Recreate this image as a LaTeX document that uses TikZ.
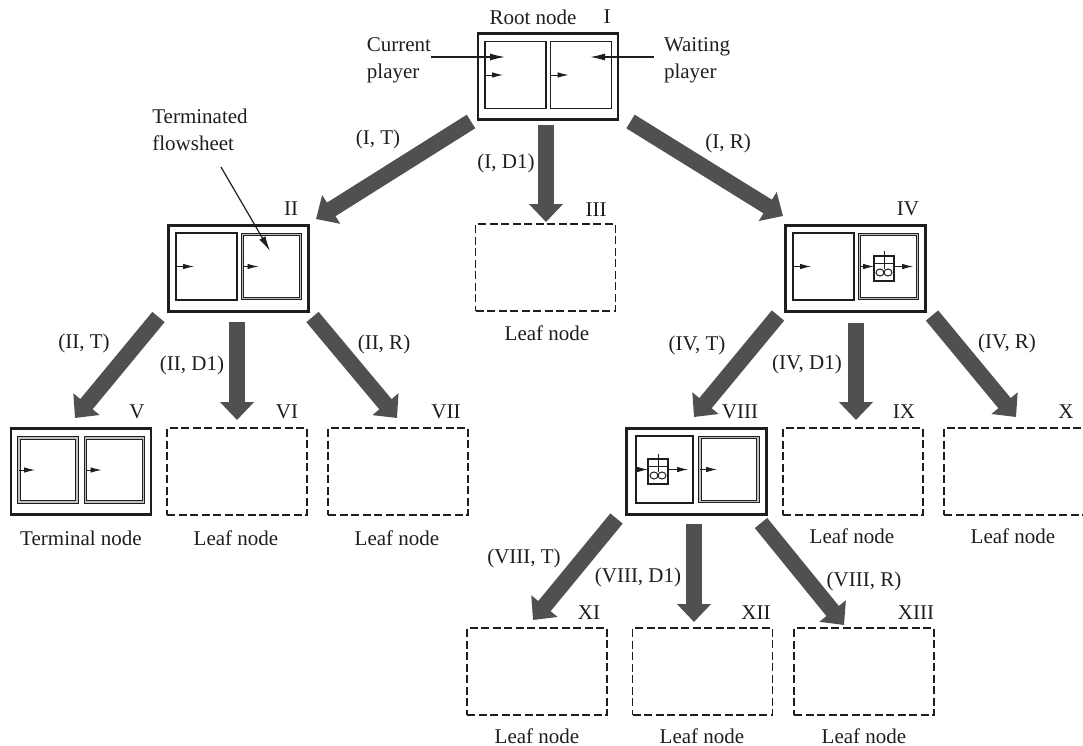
\documentclass[tikz,border=0pt]{standalone}
\usepackage{fontspec}
\setmainfont{Liberation Serif}
\usetikzlibrary{arrows.meta,calc}
\definecolor{arrowgray}{HTML}{505050}
\definecolor{inkgray}{HTML}{1E1E1E}
\tikzset{
  outerbox/.style={draw=inkgray, line width=2.4pt, minimum width=140pt, minimum height=86pt, inner sep=0pt, outer sep=0pt},
  leafbox/.style={draw=inkgray, line width=1.2pt, dash pattern=on 8pt off 3.5pt, minimum width=140pt, minimum height=87pt, inner sep=0pt, outer sep=0pt},
  panel/.style={draw=inkgray, line width=1.2pt, minimum width=61pt, minimum height=67pt, inner sep=0pt, outer sep=0pt},
  donepanel/.style={draw=inkgray, line width=1pt, double=black!25, double distance=1.9pt, minimum width=58pt, minimum height=64pt, inner sep=0pt, outer sep=0pt},
  mixerbox/.style={draw=inkgray, line width=1.1pt, minimum width=20pt, minimum height=25pt, inner sep=0pt, outer sep=0pt},
  bigarrow/.style={draw=arrowgray, line width=16pt, -{Triangle[length=18pt,width=33pt]}},
  smallarrow/.style={draw=inkgray, line width=0.9pt, -{Latex[length=11pt,width=5.5pt]}},
  thinarrow/.style={draw=inkgray, line width=1.2pt, -{Latex[length=15pt,width=7pt]}},
  lbl/.style={text=inkgray, inner sep=0pt, font=\fontsize{21}{27}\selectfont},
}
\newcommand{\mixer}[3]{%
  \node[mixerbox] (#1) at (#2,#3) {};
  \draw[inkgray, line width=1pt] (#1.north) ++(0,-5) -- ++(0,18);
  \draw[inkgray, line width=1pt] ($(#1.west)+(0,-5)$) -- ($(#1.east)+(0,-5)$);
  \draw[inkgray, line width=1pt] ($(#1)+(-4,4)$) circle (4pt and 3.5pt);
  \draw[inkgray, line width=1pt] ($(#1)+(4,4)$) circle (4pt and 3.5pt);
}
\begin{document}
\begin{tikzpicture}[x=1pt,y=-1pt]
  \useasboundingbox (0,0) rectangle (1083,746);

  % Root node
  \node[outerbox] (nI) at (548,76.5) {};
  \node[panel] (nIa) at (515.5,75) {};
  \node[panel] (nIb) at (581,75) {};
  \draw[smallarrow] (nIa.west) -- ++(18,0);
  \draw[smallarrow] (nIb.west) -- ++(18,0);
  \node[lbl] (rootlabel) at (533,17) {Root node};
  \node[lbl] (romanI) at (607,17) {I};
  \node[lbl, align=left] (current) at (399,60) {Current\\player};
  \node[lbl, align=left] (waiting) at (697,60) {Waiting\\player};
  \coordinate (currenttip) at (505,57);
  \coordinate (waitingtip) at (590,57);
  \draw[thinarrow] (current.east |- currenttip) -- (currenttip);
  \draw[thinarrow] ($(waiting.west |- waitingtip)+(-10,0)$) -- (waitingtip);

  % Second level
  \node[outerbox] (nII) at (238.5,268.5) {};
  \node[panel] (nIIa) at (206.5,266.5) {};
  \node[donepanel] (nIIb) at (271.5,266.5) {};
  \draw[smallarrow] (nIIa.west) -- ++(18,0);
  \draw[smallarrow] (nIIb.west) -- ++(16,0);
  \node[lbl] (romanII) at (291,209) {II};
  \node[lbl, align=left] (terminated) at (200,130) {Terminated\\flowsheet};
  \coordinate (terminatedtip) at (270,251);
  \draw[thinarrow] ($(terminated.south)+(21,16)$) -- (terminatedtip);

  \node[leafbox] (nIII) at (545.5,267.5) {};
  \node[lbl] (romanIII) at (596,210) {III};
  \node[lbl] (leafIII) at (547,333) {Leaf node};

  \node[outerbox] (nIV) at (855.5,268.5) {};
  \node[panel] (nIVa) at (823.5,266.5) {};
  \node[donepanel] (nIVb) at (888.5,266.5) {};
  \mixer{mixIV}{884}{268.5}
  \draw[smallarrow] (nIVa.west) -- ++(18,0);
  \draw[smallarrow] (nIVb.west) -- (nIVb.west -| mixIV.west);
  \draw[smallarrow] (nIVb.center -| mixIV.east) -- ++(19,0);
  \node[lbl] (romanIV) at (908,209) {IV};

  % Third level, left
  \node[outerbox] (nV) at (81,471.5) {};
  \node[donepanel] (nVa) at (48,470) {};
  \node[donepanel] (nVb) at (114.5,470) {};
  \draw[smallarrow] (nVa.west) -- ++(16,0);
  \draw[smallarrow] (nVb.west) -- ++(16,0);
  \node[lbl] (romanV) at (137,412) {V};
  \node[lbl] (terminal) at (81,538) {Terminal node};

  \node[leafbox] (nVI) at (237,471.5) {};
  \node[lbl] (romanVI) at (287,412) {VI};
  \node[lbl] (leafVI) at (236,538) {Leaf node};

  \node[leafbox] (nVII) at (398,471.5) {};
  \node[lbl] (romanVII) at (446,412) {VII};
  \node[lbl] (leafVII) at (397,538) {Leaf node};

  % Third level, right
  \node[outerbox] (nVIII) at (696.5,471.5) {};
  \node[panel, minimum width=57pt] (nVIIIa) at (664.5,469.5) {};
  \node[donepanel] (nVIIIb) at (729,469.5) {};
  \mixer{mixVIII}{658}{471.5}
  \draw[smallarrow] (nVIIIa.west) -- (nVIIIa.west -| mixVIII.west);
  \draw[smallarrow] (nVIIIa.center -| mixVIII.east) -- ++(20,0);
  \draw[smallarrow] (nVIIIb.west) -- ++(17,0);
  \node[lbl] (romanVIII) at (740,412) {VIII};

  \node[leafbox] (nIX) at (853,471.5) {};
  \node[lbl] (romanIX) at (904,412) {IX};
  \node[lbl] (leafIX) at (852,536) {Leaf node};

  \node[leafbox] (nX) at (1014,471.5) {};
  \node[lbl] (romanX) at (1066,412) {X};
  \node[lbl] (leafX) at (1013,536) {Leaf node};

  % Fourth level
  \node[leafbox] (nXI) at (537,671.5) {};
  \node[lbl] (romanXI) at (589,613) {XI};
  \node[lbl] (leafXI) at (537,736) {Leaf node};

  \node[leafbox] (nXII) at (702.5,671.5) {};
  \node[lbl] (romanXII) at (756,613) {XII};
  \node[lbl] (leafXII) at (702,736) {Leaf node};

  \node[leafbox] (nXIII) at (864,671.5) {};
  \node[lbl] (romanXIII) at (916,613) {XIII};
  \node[lbl] (leafXIII) at (864,736) {Leaf node};

  % Moves
  \draw[bigarrow] ($(nI.south west)+(-7,2)$) -- ($(nII.north east)+(7.5,-6.5)$);
  \draw[bigarrow] ($(nI.south)+(-2,5.5)$) -- ($(nIII.north)+(0.5,-2)$);
  \draw[bigarrow] ($(nI.south east)+(12.5,2)$) -- ($(nIV.north west)+(-2.5,-9.5)$);
  \draw[bigarrow] ($(nII.south west)+(-10,5.5)$) -- ($(nV.north)+(-6,-10.5)$);
  \draw[bigarrow] ($(nII.south)+(-1.5,10.5)$) -- ($(nVI.north)+(0,-8)$);
  \draw[bigarrow] ($(nII.south east)+(4,5.5)$) -- ($(nVII.north)+(-1,-10)$);
  \draw[bigarrow] ($(nIV.south west)+(-7.5,4)$) -- ($(nVIII.north)+(-2.5,-11.5)$);
  \draw[bigarrow] ($(nIV.south)+(0.5,11.5)$) -- ($(nIX.north)+(3,-8)$);
  \draw[bigarrow] ($(nIV.south east)+(6.5,4)$) -- ($(nX.north)+(2,-11)$);
  \draw[bigarrow] ($(nVIII.south west)+(-10,4)$) -- ($(nXI.north)+(-4,-8)$);
  \draw[bigarrow] ($(nVIII.south)+(-2.5,9.5)$) -- ($(nXII.north)+(-8.5,-6)$);
  \draw[bigarrow] ($(nVIII.south east)+(-5.5,8.5)$) -- ($(nXIII.north)+(-20,-3)$);

  % Move labels
  \node[lbl] (moveIT) at (378,139) {(I, T)};
  \node[lbl] (moveID) at (506,163) {(I, D1)};
  \node[lbl] (moveIR) at (728,143) {(I, R)};
  \node[lbl] (moveIIT) at (84,343) {(II, T)};
  \node[lbl] (moveIID) at (192,365) {(II, D1)};
  \node[lbl] (moveIIR) at (384,344) {(II, R)};
  \node[lbl] (moveIVT) at (697,345) {(IV, T)};
  \node[lbl] (moveIVD) at (807,364) {(IV, D1)};
  \node[lbl] (moveIVR) at (1007,343) {(IV, R)};
  \node[lbl] (moveVIIIT) at (524,558) {(VIII, T)};
  \node[lbl] (moveVIIID) at (638,577) {(VIII, D1)};
  \node[lbl] (moveVIIIR) at (864,581) {(VIII, R)};
\end{tikzpicture}
\end{document}
